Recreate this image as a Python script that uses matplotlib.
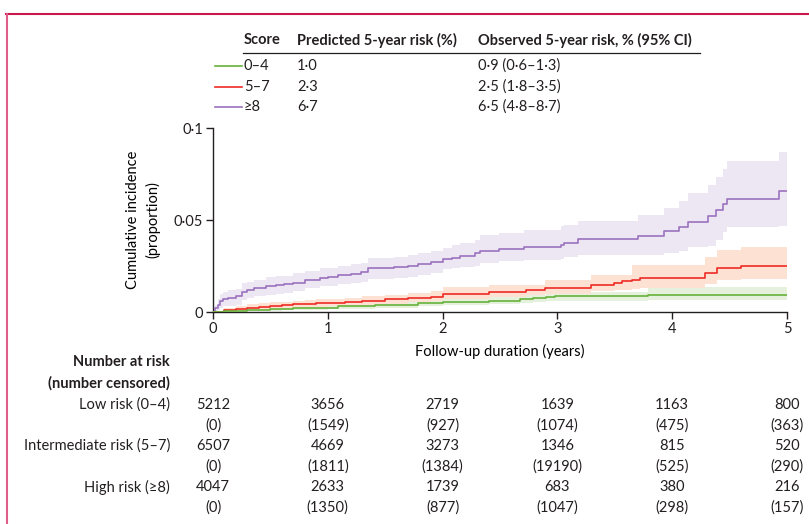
import matplotlib
matplotlib.use("Agg")
import matplotlib.pyplot as plt
from matplotlib.lines import Line2D

plt.rcParams['font.family'] = ['Lato', 'DejaVu Sans']
plt.rcParams['font.size'] = 10.5
plt.rcParams['text.color'] = '#231f20'

W, H = 809, 524

# ---- data (step times in years, cumulative incidence) ----
t_low = [0, 0.1, 0.2, 0.3, 0.4, 0.5, 0.6, 0.7, 0.8, 0.9, 1.0, 1.09, 1.41, 1.79,
         2.0, 2.4, 2.67, 2.79, 2.90, 2.98, 3.79, 5.0]
est_low = [0, 0.0003, 0.0006, 0.0009, 0.0012, 0.0016, 0.0018, 0.002, 0.0022, 0.0023,
           0.0024, 0.003, 0.0038, 0.0049, 0.0056, 0.0062, 0.0069, 0.0074, 0.008,
           0.0087, 0.0092, 0.0092]
hi_low = [0, 0.0008, 0.0013, 0.0017, 0.0021, 0.0025, 0.0028, 0.003, 0.0033, 0.0035,
          0.0037, 0.0043, 0.0053, 0.0066, 0.0075, 0.0082, 0.009, 0.0095, 0.0102,
          0.011, 0.0136, 0.0136]
lo_low = [0, 0, 0.0001, 0.0003, 0.0005, 0.0008, 0.001, 0.0011, 0.0012, 0.0013,
          0.0014, 0.0018, 0.0024, 0.0033, 0.0039, 0.0044, 0.005, 0.0054, 0.0058,
          0.0062, 0.0063, 0.0063]

t_mid = [0, 0.1, 0.2, 0.3, 0.4, 0.5, 0.6, 0.7, 0.8, 0.9, 1.0, 1.15, 1.3, 1.5, 1.7,
         1.9, 2.0, 2.40, 2.73, 2.89, 3.29, 3.49, 3.56, 3.65, 3.72, 4.29, 4.39, 4.60, 5.0]
est_mid = [0, 0.001, 0.0017, 0.0023, 0.0028, 0.0033, 0.0037, 0.0041, 0.0045, 0.0048,
           0.005, 0.0055, 0.006, 0.0069, 0.0076, 0.0083, 0.0098, 0.011, 0.012, 0.0132,
           0.0147, 0.0156, 0.0166, 0.0174, 0.0187, 0.0214, 0.0237, 0.0252, 0.0252]
hi_mid = [0, 0.002, 0.0032, 0.0041, 0.0047, 0.0052, 0.0057, 0.0062, 0.0066, 0.007,
          0.0073, 0.0078, 0.0085, 0.0095, 0.0104, 0.0113, 0.0135, 0.0147, 0.0147,
          0.0174, 0.0201, 0.0201, 0.0201, 0.0255, 0.0255, 0.0297, 0.0337, 0.0355, 0.0355]
lo_mid = [0, 0.0003, 0.0007, 0.001, 0.0013, 0.0017, 0.002, 0.0023, 0.0026, 0.0029,
          0.0031, 0.0035, 0.0039, 0.0046, 0.0052, 0.0058, 0.0072, 0.0082, 0.0092,
          0.010, 0.0112, 0.0117, 0.012, 0.0125, 0.0129, 0.0152, 0.0174, 0.0182, 0.0182]

t_high = [0, 0.02, 0.04, 0.06, 0.09, 0.13, 0.20, 0.25, 0.30, 0.36, 0.46, 0.55, 0.62,
          0.70, 0.80, 0.93, 1.00, 1.09, 1.20, 1.29, 1.35, 1.45, 1.58, 1.70, 1.79, 1.90,
          2.00, 2.08, 2.15, 2.28, 2.33, 2.49, 2.71, 3.03, 3.06, 3.18, 3.70, 3.93, 4.06,
          4.135, 4.31, 4.38, 4.44, 4.48, 4.93, 5.0]
est_high = [0, 0.002, 0.004, 0.006, 0.007, 0.0077, 0.0085, 0.011, 0.012, 0.0129,
            0.0141, 0.0145, 0.015, 0.016, 0.0174, 0.0187, 0.019, 0.020, 0.0208, 0.0216,
            0.0237, 0.024, 0.0245, 0.0252, 0.026, 0.027,
            0.0286, 0.0295, 0.0304, 0.0323, 0.0333, 0.0342, 0.0351, 0.0364, 0.0377,
            0.0395, 0.0413, 0.044, 0.0464, 0.049, 0.0522, 0.0554, 0.0587, 0.0614,
            0.0655, 0.0655]
hi_high = [0, 0.004, 0.007, 0.010, 0.011, 0.0118, 0.0125, 0.0155, 0.0165, 0.0175,
           0.019, 0.0193, 0.0198, 0.021, 0.0222, 0.0237, 0.024, 0.0252, 0.026, 0.0268,
           0.0292, 0.0296, 0.030, 0.031, 0.032, 0.033,
           0.035, 0.0365, 0.0373, 0.039, 0.0418, 0.043, 0.0446, 0.0465, 0.0473,
           0.0495, 0.0527, 0.0563, 0.0603, 0.0645, 0.069, 0.0732, 0.0775, 0.0822,
           0.087, 0.087]
lo_high = [0, 0.0005, 0.001, 0.002, 0.003, 0.0035, 0.004, 0.0065, 0.0075, 0.0085,
           0.0095, 0.010, 0.0105, 0.0115, 0.0129, 0.014, 0.0143, 0.015, 0.0158, 0.0165,
           0.0178, 0.0182, 0.0186, 0.0192, 0.020, 0.021,
           0.0235, 0.024, 0.0245, 0.025, 0.0264, 0.0275, 0.0283, 0.029, 0.0297,
           0.031, 0.031, 0.032, 0.033, 0.0351, 0.036, 0.0391, 0.0437, 0.046,
           0.047, 0.047]

scores = ['0–4', '5–7', '≥8']
predicted = ['1·0', '2·3', '6·7']
observed = ['0·9 (0·6–1·3)', '2·5 (1·8–3·5)', '6·5 (4·8–8·7)']

risk_groups = ['Low risk (0–4)', 'Intermediate risk (5–7)', 'High risk (≥8)']
years = [0, 1, 2, 3, 4, 5]
at_risk = [[5212, 3656, 2719, 1639, 1163, 800],
           [6507, 4669, 3273, 1346, 815, 520],
           [4047, 2633, 1739, 683, 380, 216]]
censored = [[0, 1549, 927, 1074, 475, 363],
            [0, 1811, 1384, 19190, 525, 290],
            [0, 1350, 877, 1047, 298, 157]]

line_cols = ['#67b23c', '#ee2b24', '#9a72bd']
band_cols = ['#e6f1dd', '#fde2d4', '#ece7f3']


def fx(x):
    return x / W


def fy(y):
    return 1 - y / H


fig = plt.figure(figsize=(W / 100, H / 100), dpi=100)
ax = fig.add_axes([fx(213), fy(312), fx(787) - fx(213), fy(128) - fy(312)])

series = [(t_high, est_high, lo_high, hi_high, 2),
          (t_mid, est_mid, lo_mid, hi_mid, 1),
          (t_low, est_low, lo_low, hi_low, 0)]
for t, e, lo, hi, k in series:
    ax.fill_between(t, lo, hi, step='post', color=band_cols[k], lw=0, zorder=1 + k * 0.1)
for t, e, lo, hi, k in series:
    ax.step(t, e, where='post', color=line_cols[k], lw=1.2, zorder=3)

ax.set_xlim(0, 5)
ax.set_ylim(0, 0.1)
ax.set_xticks(years)
ax.set_xticklabels([str(y) for y in years])
ax.set_yticks([0, 0.05, 0.1])
ax.set_yticklabels(['0', '0·05', '0·1'])
for s in ['top', 'right']:
    ax.spines[s].set_visible(False)
for s in ['left', 'bottom']:
    ax.spines[s].set_linewidth(1.0)
    ax.spines[s].set_color('#231f20')
ax.tick_params(length=5, width=1.0, color='#231f20', labelsize=10.5,
               labelcolor='#231f20', pad=2)
ax.set_xlabel('Follow-up duration (years)', fontsize=10.5, labelpad=6)
ax.set_ylabel('Cumulative incidence\n(proportion)', fontsize=10.5, labelpad=10,
              linespacing=1.4)

# legend table above the plot
hdr_y = 40
fig.text(fx(244), fy(hdr_y), 'Score', fontweight='bold', va='center', fontsize=10.5)
fig.text(fx(297), fy(hdr_y), 'Predicted 5-year risk (%)', fontweight='bold',
         va='center', fontsize=10.5)
fig.text(fx(478), fy(hdr_y), 'Observed 5-year risk, % (95% CI)', fontweight='bold',
         va='center', fontsize=10.5)
fig.add_artist(Line2D([fx(243), fx(700)], [fy(53), fy(53)], color='#231f20', lw=0.9))
row_y = [66, 87, 107]
for i in range(3):
    fig.add_artist(Line2D([fx(215), fx(242)], [fy(row_y[i]), fy(row_y[i])],
                          color=line_cols[i], lw=1.2))
    fig.text(fx(244), fy(row_y[i]), scores[i], va='center', fontsize=10.5)
    fig.text(fx(297), fy(row_y[i]), predicted[i], va='center', fontsize=10.5)
    fig.text(fx(478), fy(row_y[i]), observed[i], va='center', fontsize=10.5)

# number at risk table
fig.text(fx(170), fy(362), 'Number at risk', fontweight='bold', ha='right',
         va='center', fontsize=10.5)
fig.text(fx(170), fy(383), '(number censored)', fontweight='bold', ha='right',
         va='center', fontsize=10.5)
for i in range(3):
    y1 = 405 + i * 41
    y2 = y1 + 21
    fig.text(fx(170), fy(y1), risk_groups[i], ha='right', va='center', fontsize=10.5)
    for j, yr in enumerate(years):
        xp = ax.transData.transform((yr, 0))[0]
        fig.text(xp / W, fy(y1), str(at_risk[i][j]), ha='center', va='center',
                 fontsize=10.5)
        fig.text(xp / W, fy(y2), '(' + str(censored[i][j]) + ')', ha='center',
                 va='center', fontsize=10.5)

# crimson frame lines
fig.add_artist(Line2D([fx(6), 1], [fy(14), fy(14)], color='#c8174a', lw=1.5))
fig.add_artist(Line2D([fx(7), fx(7)], [fy(14), 0], color='#e05c88', lw=1.5))

fig.savefig('out.png', dpi=100)
